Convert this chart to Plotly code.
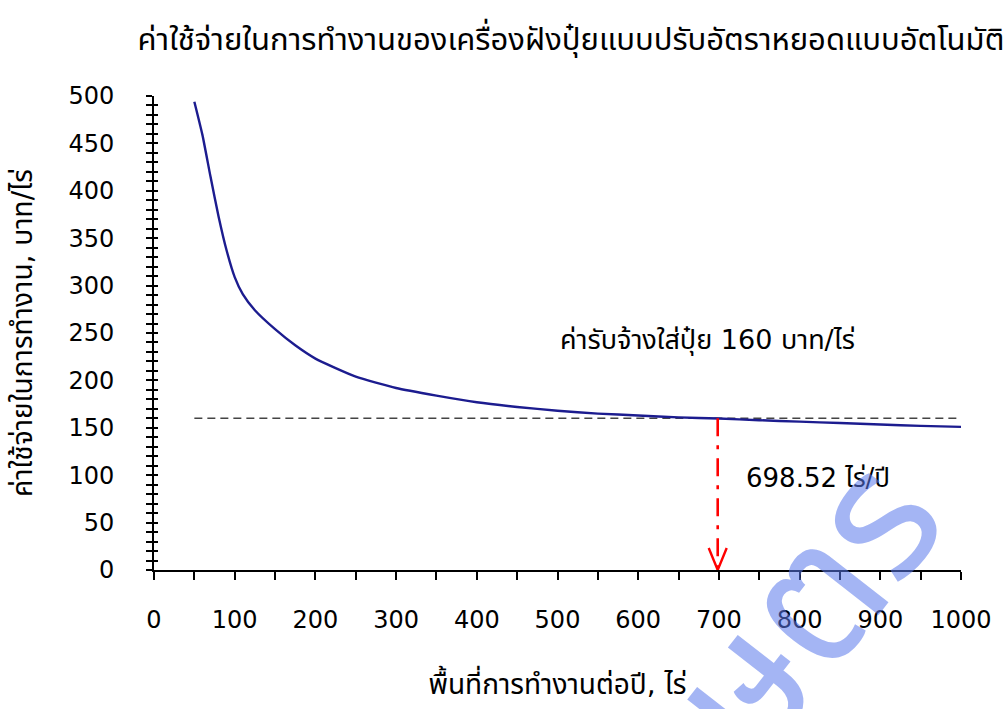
import plotly.graph_objects as go

# Operating cost per rai versus area worked per year
area_rai = [50, 60, 70, 80, 90, 100, 110, 125, 150, 175, 200, 250, 300, 350,
            400, 450, 500, 550, 600, 650, 700, 750, 800, 850, 900, 950, 1000]
cost_baht_per_rai = [494, 459, 415, 373, 337, 309, 291, 274, 254, 237, 223, 204,
                     192, 184, 177, 172, 168, 165, 163, 161, 159.8, 158, 156.5,
                     155, 153.5, 152, 151]

# Custom hire rate and break-even area
HIRE_RATE = 160
BREAK_EVEN_AREA = 698.52
RATE_SPAN = [50, 1000]

TITLE = "ค่าใช้จ่ายในการทำงานของเครื่องฝังปุ๋ยแบบปรับอัตราหยอดแบบอัตโนมัติ"
X_TITLE = "พื้นที่การทำงานต่อปี, ไร่"
Y_TITLE = "ค่าใช้จ่ายในการทำงาน, บาท/ไร่"
RATE_LABEL = f"ค่ารับจ้างใส่ปุ๋ย {HIRE_RATE} บาท/ไร่"
BREAK_EVEN_LABEL = f"{BREAK_EVEN_AREA:.2f} ไร่/ปี"
WATERMARK = "เกษตร"

FONT = "Tahoma, 'DejaVu Sans', 'Noto Sans Thai', sans-serif"

fig = go.Figure()

# hire-rate reference line
fig.add_trace(go.Scatter(
    x=RATE_SPAN, y=[HIRE_RATE, HIRE_RATE], mode="lines",
    line=dict(color="#444444", width=1.6, dash="8px,5px"),
    hoverinfo="skip", showlegend=False))

# cost curve
fig.add_trace(go.Scatter(
    x=area_rai, y=cost_baht_per_rai, mode="lines",
    line=dict(color="#1c1c8f", width=2.4, shape="spline", smoothing=0.5),
    showlegend=False))

# break-even drop line
fig.add_trace(go.Scatter(
    x=[BREAK_EVEN_AREA, BREAK_EVEN_AREA], y=[HIRE_RATE, 0], mode="lines",
    line=dict(color="#ff0000", width=2.6, dash="18px,9px,4px,9px"),
    hoverinfo="skip", showlegend=False))

# open arrow head at the bottom of the drop line
fig.add_shape(type="path", xref="x", yref="y",
              xsizemode="pixel", ysizemode="pixel",
              xanchor=BREAK_EVEN_AREA, yanchor=0,
              path="M -9,22 L 0,0 L 9,22",
              line=dict(color="#ff0000", width=2.4))

fig.add_annotation(x=686, y=243, xref="x", yref="y", text=RATE_LABEL,
                   showarrow=False, font=dict(size=27, color="black", family=FONT))
fig.add_annotation(x=731, y=97, xref="x", yref="y", text=BREAK_EVEN_LABEL,
                   showarrow=False, xanchor="left",
                   font=dict(size=26, color="black", family=FONT))

# watermark
fig.add_annotation(x=0.745, y=-0.215, xref="paper", yref="paper", text=WATERMARK,
                   showarrow=False, textangle=-52, xanchor="center", yanchor="middle",
                   font=dict(size=180, color="rgba(90,120,235,0.55)", family=FONT))

fig.update_layout(
    width=1007, height=709,
    margin=dict(l=154, r=46, t=96, b=139),
    paper_bgcolor="white", plot_bgcolor="white",
    font=dict(family=FONT, color="black"),
    title=dict(text=TITLE, x=0.567, xanchor="center", y=0.945, yanchor="middle",
               font=dict(size=31, color="black", family=FONT)),
    xaxis=dict(range=[0, 1000], dtick=100, tick0=0,
               showgrid=False, zeroline=False,
               showline=True, linecolor="black", linewidth=2,
               ticks="outside", ticklen=8, tickwidth=2, tickcolor="black",
               minor=dict(dtick=50, ticks="outside", ticklen=8, tickwidth=2, tickcolor="black"),
               tickfont=dict(size=24, family=FONT), ticklabelstandoff=19,
               title=dict(text=X_TITLE, font=dict(size=28, family=FONT), standoff=42)),
    yaxis=dict(range=[0, 500], dtick=50, tick0=0,
               showgrid=False, zeroline=False,
               showline=True, linecolor="black", linewidth=2,
               ticks="outside", ticklen=6, tickwidth=2, tickcolor="black",
               minor=dict(dtick=10, ticks="outside", ticklen=6, tickwidth=2, tickcolor="black"),
               tickfont=dict(size=24, family=FONT), ticklabelstandoff=27,
               title=dict(text=Y_TITLE, font=dict(size=28, family=FONT), standoff=28)),
    yaxis2=dict(range=[0, 500], overlaying="y", side="left", anchor="x",
                showgrid=False, zeroline=False, showline=False, showticklabels=False,
                ticks="inside", dtick=10, ticklen=4, tickwidth=2, tickcolor="black"),
)

# inside half of the crossing y ticks
fig.add_trace(go.Scatter(x=[None], y=[None], yaxis="y2", showlegend=False, hoverinfo="skip"))

fig.write_html("out.html")
